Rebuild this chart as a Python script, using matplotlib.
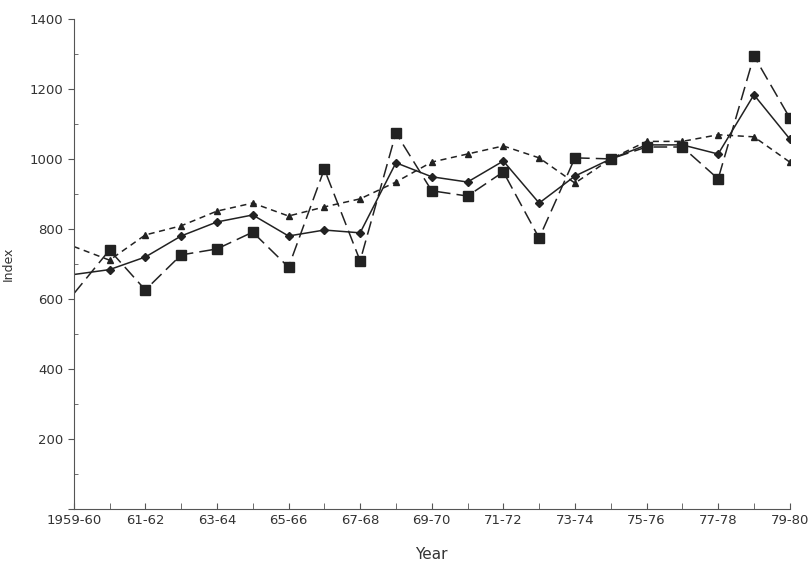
import numpy as np
import matplotlib
matplotlib.use("Agg")
import matplotlib.pyplot as plt
from matplotlib.ticker import MultipleLocator

years = list(range(1959, 1980))
tick_labels = ["1959-60", "61-62", "63-64", "65-66", "67-68", "69-70",
               "71-72", "73-74", "75-76", "77-78", "79-80"]
y_ticks = [0, 200, 400, 600, 800, 1000, 1200, 1400]

squares = [615, 740, 626, 726, 743, 791, 691, 971, 709, 1074, 909,
           894, 963, 774, 1003, 1000, 1034, 1034, 943, 1294, 1117]
diamonds = [670, 684, 720, 780, 820, 840, 780, 797, 789, 989, 949,
            934, 994, 874, 951, 1000, 1040, 1040, 1014, 1183, 1057]
triangles = [750, 711, 783, 809, 851, 874, 837, 863, 886, 934, 991,
             1014, 1037, 1003, 931, 1000, 1050, 1050, 1069, 1063, 991]

plt.rcParams['font.family'] = ['DejaVu Sans']

fig = plt.figure(figsize=(8.1, 5.69), dpi=100)
ax = fig.add_axes([0.091, 0.105, 0.884, 0.862])

x = np.arange(len(years))
marks = list(range(1, len(years)))
col = '#222222'

ax.plot(x, squares, color=col, lw=1.1, dashes=(9, 4), marker='s', ms=7,
        markevery=marks)
ax.plot(x, diamonds, color=col, lw=1.1, ls='-', marker='D', ms=4.5,
        markevery=marks)
ax.plot(x, triangles, color=col, lw=1.1, dashes=(4, 3), marker='^', ms=5,
        markevery=marks)

ax.set_xlim(0, 20)
ax.set_ylim(0, 1400)
ax.set_xticks(np.arange(0, 21, 2))
ax.set_xticklabels(tick_labels, fontsize=9.5, color='#333333')
ax.xaxis.set_minor_locator(MultipleLocator(1))
ax.set_yticks(y_ticks)
ax.set_yticklabels([str(v) if v > 0 else '' for v in y_ticks],
                   fontsize=9.5, color='#333333')
ax.yaxis.set_minor_locator(MultipleLocator(100))
ax.tick_params(axis='x', which='both', direction='in', length=4, color='#555555')
ax.tick_params(axis='y', which='major', direction='out', length=4, color='#555555')
ax.tick_params(axis='y', which='minor', direction='in', length=3, color='#555555')

for s in ['top', 'right']:
    ax.spines[s].set_visible(False)
for s in ['left', 'bottom']:
    ax.spines[s].set_color('#555555')

ax.set_xlabel('Year', fontsize=11, color='#333333', labelpad=14)
ax.set_ylabel('Index', fontsize=9, color='#333333')
ax.yaxis.set_label_coords(-0.083, 0.5)

fig.savefig('out.png', dpi=100)
